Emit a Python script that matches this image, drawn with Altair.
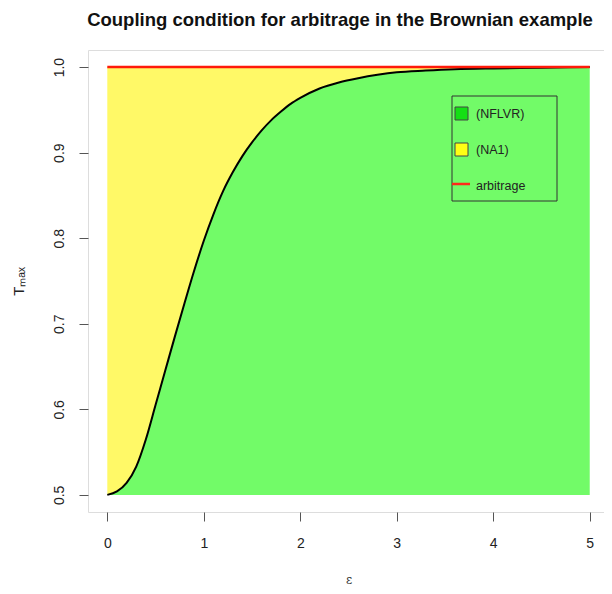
import altair as alt
import pandas as pd

# ---- data ----
eps = [0.0, 0.1, 0.2, 0.3, 0.4, 0.5, 0.6, 0.7, 0.8, 0.9, 1.0, 1.1, 1.2, 1.3,
       1.4, 1.5, 1.6, 1.7, 1.8, 1.9, 2.0, 2.2, 2.4, 2.6, 2.8, 3.0, 3.3, 3.6,
       4.0, 4.5, 5.0]
tmax = [0.500, 0.504, 0.514, 0.533, 0.565, 0.605, 0.645, 0.685, 0.724, 0.762,
        0.797, 0.828, 0.855, 0.877, 0.896, 0.912, 0.926, 0.938, 0.948, 0.957,
        0.964, 0.975, 0.982, 0.987, 0.991, 0.994, 0.996, 0.9975, 0.9985, 0.9993,
        1.0]
y_low = 0.5
y_high = 1.0
arb_eps = [0.0, 5.0]
arb_t = [1.0, 1.0]
x_ticks = [0, 1, 2, 3, 4, 5]
y_ticks = [0.5, 0.6, 0.7, 0.8, 0.9, 1.0]
legend_labels = ["(NFLVR)", "(NA1)", "arbitrage"]
legend_colors = ["#14e014", "#ffff14", "#ff2a1a"]

FONT = "Liberation Sans"

curve = pd.DataFrame({"eps": eps, "tmax": tmax,
                      "low": [y_low] * len(eps), "high": [y_high] * len(eps)})
arb = pd.DataFrame({"eps": arb_eps, "t": arb_t})

xscale = alt.Scale(domain=[-0.2, 5.148], nice=False, zero=False)
yscale = alt.Scale(domain=[0.48, 1.02], nice=False, zero=False)

xaxis = alt.Axis(values=x_ticks, title="ε", grid=False, domain=False,
                 tickSize=9, tickColor="#555", labelFontSize=14, labelFont=FONT,
                 labelColor="#222", labelBaseline="alphabetic", labelPadding=26,
                 titleFont="DejaVu Serif", titleFontSize=12, titleFontWeight="normal",
                 titleColor="#333", titleBaseline="middle", titleY=67,
                 titleX=260.5, titleAlign="center")
yaxis = alt.Axis(values=y_ticks, format=".1f", title="Tₘₐₓ", grid=False, domain=False,
                 tickSize=9, tickColor="#555", labelFontSize=14, labelFont=FONT,
                 labelColor="#222", labelAngle=270, labelAlign="center",
                 labelBaseline="alphabetic", labelPadding=15.5,
                 titleFont=FONT, titleFontSize=15, titleFontWeight="normal",
                 titleColor="#222", titleAngle=270, titleAlign="center",
                 titleBaseline="alphabetic", titleX=-65, titleY=231)

def X(f):
    return alt.X(f, scale=xscale, axis=xaxis)

def Y(f):
    return alt.Y(f, scale=yscale, axis=yaxis)

base = alt.Chart(curve)
yellow = base.mark_area(color="#fff967", interpolate="monotone", opacity=1).encode(
    x=X("eps:Q"), y=Y("tmax:Q"), y2="high:Q")
green = base.mark_area(color="#72fb68", interpolate="monotone", opacity=1).encode(
    x=X("eps:Q"), y=Y("low:Q"), y2="tmax:Q")
line = base.mark_line(color="black", strokeWidth=2, interpolate="monotone").encode(
    x=X("eps:Q"), y=Y("tmax:Q"))
arb_line = alt.Chart(arb).mark_line(color="#ff1a0a", strokeWidth=2.5).encode(
    x=X("eps:Q"), y=Y("t:Q"))

# ---- legend (drawn as a box inside the plot) ----
layers = [yellow, green, line, arb_line]
box = alt.Chart(pd.DataFrame({"a": [0]})).mark_rect(
    fillOpacity=0, stroke="#333", strokeWidth=1).encode(
    x=alt.value(364), x2=alt.value(469), y=alt.value(46), y2=alt.value(151))
layers.append(box)
rows_y = [64, 100, 136]
for lab, col, yy in zip(legend_labels, legend_colors, rows_y):
    d = pd.DataFrame({"label": [lab]})
    if lab == "arbitrage":
        sym = alt.Chart(d).mark_rule(color=col, strokeWidth=2.5).encode(
            x=alt.value(364), x2=alt.value(382), y=alt.value(yy - 2))
    else:
        sym = alt.Chart(d).mark_rect(color=col, stroke="#444", strokeWidth=1).encode(
            x=alt.value(367), x2=alt.value(380), y=alt.value(yy - 7), y2=alt.value(yy + 6))
    txt = alt.Chart(d).mark_text(align="left", baseline="middle", font=FONT,
                                 fontSize=12.5, color="#222").encode(
        x=alt.value(388), y=alt.value(yy), text="label:N")
    layers += [sym, txt]

chart = alt.layer(*layers).properties(
    width=516, height=462,
    title=alt.TitleParams("Coupling condition for arbitrage in the Brownian example",
                          font=FONT, fontSize=18.5, fontWeight="bold", color="#111",
                          anchor="middle", frame="group", baseline="alphabetic",
                          offset=6, dx=-6),
    padding={"left": 80, "top": 42, "right": 0, "bottom": 74},
    autosize="none",
).configure_view(stroke="#555", strokeWidth=1).configure(background="white")

chart.save("out.html", embed_options={"renderer": "svg", "actions": False})
